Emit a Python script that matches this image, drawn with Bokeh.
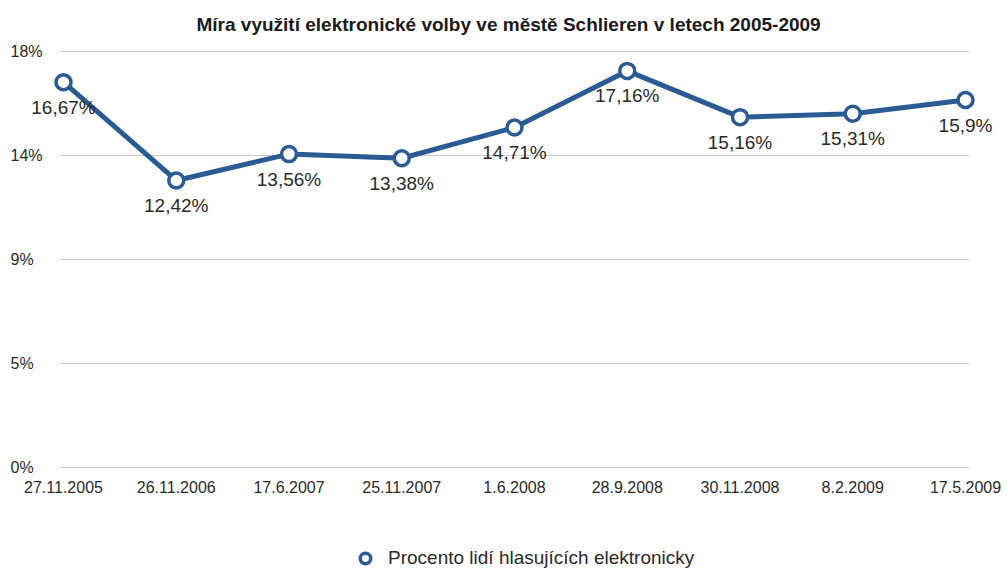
from bokeh.plotting import figure
from bokeh.models import FixedTicker, Label, Legend, LegendItem, Range1d
from bokeh.core.properties import value
from bokeh.embed import file_html
from bokeh.resources import INLINE

# ---- data ----
dates = ["27.11.2005", "26.11.2006", "17.6.2007", "25.11.2007", "1.6.2008",
         "28.9.2008", "30.11.2008", "8.2.2009", "17.5.2009"]
values = [16.67, 12.42, 13.56, 13.38, 14.71, 17.16, 15.16, 15.31, 15.9]
value_labels = ["16,67%", "12,42%", "13,56%", "13,38%", "14,71%",
                "17,16%", "15,16%", "15,31%", "15,9%"]
y_ticks = [0, 4.5, 9, 13.5, 18]
y_tick_labels = ["0%", "5%", "9%", "14%", "18%"]
title = "Míra využití elektronické volby ve městě Schlieren v letech 2005-2009"
series_name = "Procento lidí hlasujících elektronicky"

FONT = "Liberation Sans"
BLUE = "#2b5b93"
TXT = "#2a2a2a"

# ---- layout (pixels) ----
W, H = 1006, 580
FRAME_TOP = 44
X0_PX, X_STEP_PX = 63.0, 112.75      # first category position, category spacing
Y0_PX, Y18_PX = 467.0, 51.0          # pixel rows of 0 % and 18 %
ppy = (Y0_PX - Y18_PX) / 18.0

xs = list(range(len(dates)))
x_start = -X0_PX / X_STEP_PX
x_end = x_start + W / X_STEP_PX
y_end = (Y0_PX - FRAME_TOP) / ppy
y_start = -(H - Y0_PX) / ppy

p = figure(width=W, height=H, output_backend="svg", toolbar_location=None,
           x_range=Range1d(x_start, x_end), y_range=Range1d(y_start, y_end),
           min_border_left=0, min_border_right=0,
           min_border_top=FRAME_TOP, min_border_bottom=0)
p.outline_line_color = None
p.background_fill_color = "white"
p.border_fill_color = "white"

# title
p.title.text = title
p.title.align = "left"
p.title.offset = 196
p.title.text_font = FONT
p.title.text_font_size = "19px"
p.title.text_font_style = "bold"
p.title.text_color = "#1a1a1a"
p.title.standoff = 20

# x axis pinned at 0 %
p.xaxis.fixed_location = 0
p.xaxis.ticker = FixedTicker(ticks=xs)
p.xaxis.major_label_overrides = {i: d for i, d in zip(xs, dates)}
p.xaxis.axis_line_color = None
p.xaxis.major_tick_line_color = None
p.xaxis.minor_tick_line_color = None
p.xaxis.major_tick_out = 0
p.xaxis.major_tick_in = 0
p.xaxis.major_label_standoff = 13
p.xaxis.major_label_text_font = FONT
p.xaxis.major_label_text_font_size = "16px"
p.xaxis.major_label_text_color = TXT

p.yaxis.visible = False
p.xgrid.grid_line_color = None
p.ygrid.grid_line_color = None

# horizontal grid lines, spanning the categories
n = len(dates)
p.segment(x0=[-0.03] * len(y_ticks), y0=y_ticks,
          x1=[n - 1 + 0.03] * len(y_ticks), y1=y_ticks,
          line_color="#c9c9c9", line_width=1)

for t, lab in zip(y_ticks, y_tick_labels):
    p.add_layout(Label(x=10, x_units="screen", y=t, y_units="data", text=lab,
                       text_align="left", text_baseline="middle",
                       text_font=FONT, text_font_size="16px",
                       text_color=TXT))

# series
p.line(xs, values, line_color=BLUE, line_width=5, line_join="round")
sc = p.scatter(xs, values, size=15, fill_color="white", line_color=BLUE,
               line_width=3.5)
p.text(xs, values, text=value_labels, y_offset=25, text_align="center",
       text_baseline="middle", text_font=value(FONT), text_font_size="19px",
       text_color=TXT)

legend = Legend(items=[LegendItem(label=series_name, renderers=[sc])],
                location=(352, H - 571), orientation="horizontal",
                padding=0, spacing=0, margin=0,
                glyph_width=26, glyph_height=26, label_height=26,
                label_standoff=10,
                label_text_font=FONT, label_text_font_size="19px",
                label_text_color=TXT, label_text_baseline="middle",
                border_line_color=None, background_fill_alpha=0)
p.add_layout(legend, "center")

open("out.html", "w").write(file_html(p, INLINE))
